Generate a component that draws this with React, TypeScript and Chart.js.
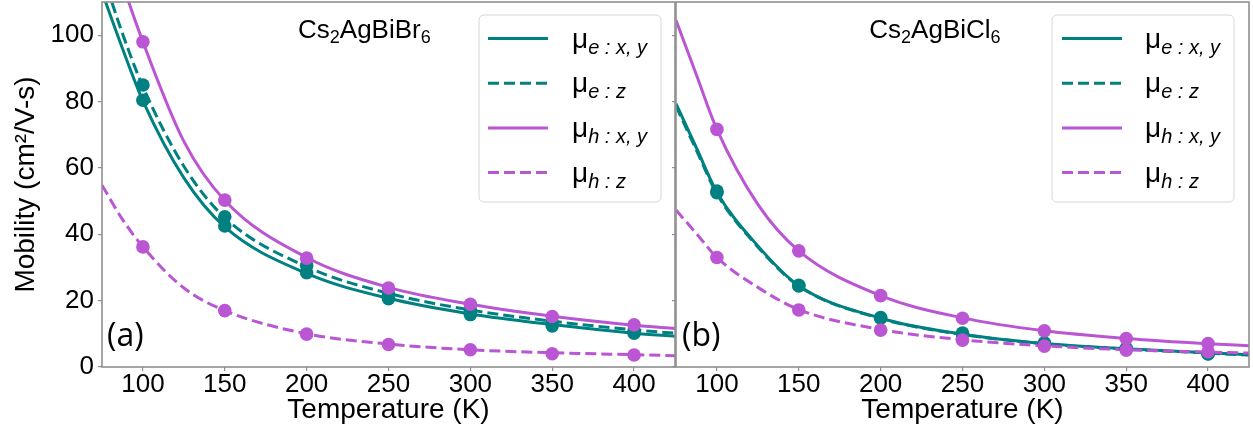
import React, { useEffect, useRef } from 'react';
import { Chart, registerables } from 'chart.js';
Chart.register(...registerables);

// ---------- data ----------
const xTicks = [100, 150, 200, 250, 300, 350, 400];
const yTicks = [0, 20, 40, 60, 80, 100];
const tempPoints = [100, 150, 200, 250, 300, 350, 400];
const tempCurve = [75, 87.5, 100, 125, 150, 200, 250, 300, 350, 400, 425];

// Cs2AgBiBr6 (panel a) – computed points
const brExyPts = [80.4, 42.5, 28.4, 20.6, 15.8, 12.4, 10.2];
const brEzPts = [85.0, 45.3, 30.6, 22.0, 17.2, 13.3, 10.9];
const brHxyPts = [98.0, 50.3, 32.8, 23.8, 18.9, 15.2, 12.7];
const brHzPts = [36.2, 17.0, 9.9, 6.8, 5.2, 4.0, 3.6];
// Cs2AgBiBr6 fitted curves
const brExyCurve = [113, 96, 80.2, 57, 42.2, 28.2, 20.7, 16.0, 12.8, 10.2, 9.3];
const brEzCurve = [119, 100.5, 84.5, 60.5, 45.0, 30.2, 22.2, 17.2, 13.8, 11.2, 10.2];
const brHxyCurve = [140, 116, 98, 68, 50.2, 33.0, 24.0, 18.9, 15.3, 12.6, 11.6];
const brHzCurve = [54.8, 44.5, 36.2, 23.8, 17.0, 10.0, 6.9, 5.2, 4.3, 3.7, 3.4];

// Cs2AgBiCl6 (panel b) – computed points
const clExyPts = [52.5, 24.4, 14.7, 9.9, 7.1, 5.5, 3.9];
const clEzPts = [53.0, 24.6, 14.9, 10.2, 7.3, 5.6, 4.0];
const clHxyPts = [71.6, 35.0, 21.5, 14.7, 10.9, 8.6, 7.1];
const clHzPts = [33.0, 17.2, 11.1, 8.1, 6.3, 5.1, 4.6];
// Cs2AgBiCl6 fitted curves
const clExyCurve = [79.4, 66, 52.7, 36.5, 24.5, 14.7, 9.9, 7.1, 5.5, 4.3, 3.7];
const clEzCurve = [78.6, 65.3, 52.2, 36.2, 24.4, 14.6, 9.8, 7.0, 5.4, 4.2, 3.6];
const clHxyCurve = [104.5, 88, 71.6, 49, 35.0, 21.5, 14.8, 10.9, 8.6, 7.0, 6.4];
const clHzCurve = [47.3, 40.2, 33.0, 24.0, 17.3, 11.3, 8.2, 6.4, 5.2, 4.5, 4.2];

const legendSubs = ['e : x, y', 'e : z', 'h : x, y', 'h : z'];

// ---------- styles ----------
const TEAL = '#008080';
const PURPLE = '#BA55D3';
const SPINE = '#8f8f8f';
const FONT = '"Liberation Sans", Arial, sans-serif';
const DASH = [11, 5];

const seriesStyle = [
  { color: TEAL, dash: [] as number[] },
  { color: TEAL, dash: DASH },
  { color: PURPLE, dash: [] as number[] },
  { color: PURPLE, dash: DASH },
];

function toXY(xs: number[], ys: number[]) {
  return xs.map((x, i) => ({ x, y: ys[i] }));
}

function buildDatasets(curves: number[][], pts: number[][]) {
  const ds: any[] = [];
  curves.forEach((c, i) => {
    ds.push({
      data: toXY(tempCurve, c),
      showLine: true,
      pointRadius: 0,
      borderWidth: 3,
      borderColor: seriesStyle[i].color,
      borderDash: seriesStyle[i].dash,
      cubicInterpolationMode: 'monotone',
      fill: false,
      clip: 0,
      order: i < 2 ? 4 : 3,
    });
  });
  pts.forEach((p, i) => {
    ds.push({
      data: toXY(tempPoints, p),
      showLine: false,
      pointRadius: 6.8,
      pointBorderWidth: 0,
      pointBackgroundColor: seriesStyle[i].color,
      backgroundColor: seriesStyle[i].color,
      order: i < 2 ? 1 : 0,
      clip: 0,
    });
  });
  return ds;
}

function drawParts(ctx: CanvasRenderingContext2D, x: number, y: number, parts: any[]) {
  let cx = x;
  for (const p of parts) {
    ctx.font = p.font;
    ctx.fillText(p.text, cx, y + (p.dy || 0));
    cx += ctx.measureText(p.text).width + (p.gap || 0);
  }
}

const decorPlugin = {
  id: 'decor',
  afterDraw(chart: any, _args: any, opts: any) {
    const ctx: CanvasRenderingContext2D = chart.ctx;
    const a = chart.chartArea;
    ctx.save();
    // frame
    ctx.strokeStyle = SPINE;
    ctx.lineWidth = 1.6;
    ctx.setLineDash([]);
    ctx.strokeRect(a.left, a.top, a.right - a.left, a.bottom - a.top);
    // legend
    const L = opts.legend;
    ctx.beginPath();
    (ctx as any).roundRect(L.x, L.y, L.w, L.h, 5);
    ctx.fillStyle = 'rgba(255,255,255,0.85)';
    ctx.fill();
    ctx.strokeStyle = '#d6d6d6';
    ctx.lineWidth = 1;
    ctx.stroke();
    ctx.textBaseline = 'alphabetic';
    ctx.textAlign = 'left';
    for (let i = 0; i < 4; i++) {
      const yy = L.row0 + L.step * i;
      ctx.beginPath();
      ctx.strokeStyle = seriesStyle[i].color;
      ctx.lineWidth = 3;
      ctx.setLineDash(seriesStyle[i].dash);
      ctx.moveTo(L.lineX, yy);
      ctx.lineTo(L.lineX + 60, yy);
      ctx.stroke();
      ctx.setLineDash([]);
      ctx.fillStyle = '#000';
      drawParts(ctx, L.textX, yy + 9, [
        { text: 'μ', font: `28px ${FONT}` },
        { text: legendSubs[i], font: `italic 20px ${FONT}`, dy: 6 },
      ]);
    }
    // compound title
    ctx.fillStyle = '#000';
    const T = opts.title;
    const big = `26px ${FONT}`;
    const small = `18px ${FONT}`;
    drawParts(ctx, T.x, T.y, [
      { text: 'Cs', font: big },
      { text: '2', font: small, dy: 5.5 },
      { text: T.mid, font: big },
      { text: '6', font: small, dy: 5.5 },
    ]);
    // panel tag
    ctx.font = `32px "Open Sans", sans-serif`;
    ctx.fillText(opts.tag.text, opts.tag.x, opts.tag.y);
    ctx.restore();
  },
};

function zeroPad(s: any) {
  s.paddingTop = 0;
  s.paddingBottom = 0;
  s.paddingLeft = 0;
  s.paddingRight = 0;
}

function makeOptions(isLeft: boolean, decor: any) {
  return {
    responsive: false,
    animation: false,
    layout: { autoPadding: false, padding: { top: 2, right: isLeft ? 1 : 4, left: 0, bottom: 0 } },
    plugins: {
      legend: { display: false },
      tooltip: { enabled: false },
      decor,
    },
    scales: {
      x: {
        type: 'linear',
        min: 75,
        max: 425,
        afterBuildTicks: (s: any) => {
          s.ticks = xTicks.map((v) => ({ value: v }));
        },
        afterFit: (s: any) => {
          s.height = 71;
          zeroPad(s);
        },
        grid: {
          display: true,
          drawOnChartArea: false,
          drawTicks: true,
          tickLength: 4,
          color: SPINE,
          lineWidth: 1.2,
        },
        border: { display: false },
        ticks: {
          color: '#000',
          padding: 1,
          maxRotation: 0,
          font: { family: FONT, size: 26, lineHeight: 1.0 },
        },
        title: {
          display: true,
          text: 'Temperature (K)',
          color: '#000',
          font: { family: FONT, size: 28 },
          padding: { top: 0, bottom: 11 },
        },
      },
      y: {
        type: 'linear',
        min: 0,
        max: 110,
        afterBuildTicks: (s: any) => {
          s.ticks = yTicks.map((v) => ({ value: v }));
        },
        afterFit: (s: any) => {
          s.width = isLeft ? 102 : 6;
          zeroPad(s);
        },
        grid: {
          display: true,
          drawOnChartArea: false,
          drawTicks: true,
          tickLength: 4,
          color: SPINE,
          lineWidth: 1.2,
        },
        border: { display: false },
        ticks: {
          display: isLeft,
          color: '#000',
          padding: 4,
          font: { family: FONT, size: 26 },
        },
        title: {
          display: isLeft,
          text: 'Mobility (cm²/V-s)',
          color: '#000',
          font: { family: FONT, size: 28 },
          padding: { top: 9, bottom: 0 },
        },
      },
    },
  };
}

function Panel(props: { left: number; width: number; isLeft: boolean; curves: number[][]; pts: number[][]; decor: any }) {
  const ref = useRef<HTMLCanvasElement>(null);
  useEffect(() => {
    if (!ref.current) return;
    const chart = new Chart(ref.current, {
      type: 'scatter',
      data: { datasets: buildDatasets(props.curves, props.pts) },
      options: makeOptions(props.isLeft, props.decor) as any,
      plugins: [decorPlugin],
    } as any);
    return () => chart.destroy();
  }, []);
  return (
    <canvas
      ref={ref}
      width={props.width}
      height={438}
      style={{ position: 'absolute', left: props.left, top: 0, width: props.width, height: 438 }}
    />
  );
}

export default function App() {
  const leftDecor = {
    title: { x: 298, y: 37.7, mid: 'AgBiBr' },
    tag: { text: '(a)', x: 107, y: 346 },
    legend: { x: 479, y: 15, w: 182, h: 187, lineX: 488, textX: 572, row0: 38.5, step: 44.7 },
  };
  const rightDecor = {
    title: { x: 199.3, y: 37.7, mid: 'AgBiCl' },
    tag: { text: '(b)', x: 12, y: 346 },
    legend: { x: 382, y: 15, w: 182, h: 187, lineX: 392, textX: 475, row0: 38.5, step: 44.7 },
  };
  return (
    <div style={{ position: 'fixed', left: 0, top: 0, width: 1253, height: 438, background: '#fff' }}>
      <Panel
        left={0}
        width={676}
        isLeft={true}
        curves={[brExyCurve, brEzCurve, brHxyCurve, brHzCurve]}
        pts={[brExyPts, brEzPts, brHxyPts, brHzPts]}
        decor={leftDecor}
      />
      <Panel
        left={670}
        width={583}
        isLeft={false}
        curves={[clExyCurve, clEzCurve, clHxyCurve, clHzCurve]}
        pts={[clExyPts, clEzPts, clHxyPts, clHzPts]}
        decor={rightDecor}
      />
    </div>
  );
}
